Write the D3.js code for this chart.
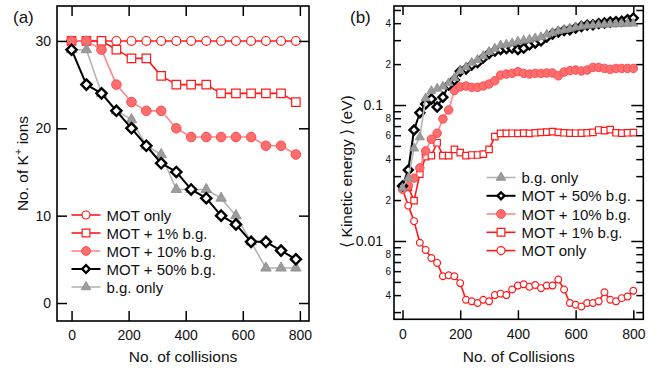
<!DOCTYPE html>
<html>
<head>
<meta charset="utf-8">
<script src="https://cdn.jsdelivr.net/npm/d3@7"></script>
<style>
  body { margin: 0; background: #fff; }
  svg { font-family: "Liberation Sans", Arial, sans-serif; }
</style>
</head>
<body>
<div id="chart"></div>
<script>
// ---- panel (a): number of K+ ions ----
const collA = [0, 52, 105, 157, 210, 262, 314, 367, 419, 472, 524, 576, 629, 681, 734, 786];
const motOnlyA = [30, 30, 30, 30, 30, 30, 30, 30, 30, 30, 30, 30, 30, 30, 30, 30];
const mot1A = [30, 30, 30, 29, 28, 28, 26, 25, 25, 25, 24, 24, 24, 24, 24, 23];
const mot10A = [30, 30, 29, 25, 23, 22, 22, 20, 19, 19, 19, 19, 19, 18, 18, 17];
const mot50A = [29, 25, 24, 22, 20, 18, 16, 15, 13, 12, 10, 9, 7, 7, 6, 5];
const bgA = [29, 29, 24, 22, 21, 18, 17, 13, 13, 13, 12, 10, 7, 4, 4, 4];
const xTicksA = [0, 200, 400, 600, 800];
const yTicksA = [0, 10, 20, 30];

// ---- panel (b): mean kinetic energy ----
const collB = [0, 20, 40, 60, 80, 100, 120, 140, 160, 180, 200, 220, 240, 260, 280, 300, 320, 340, 360, 380,
  400, 420, 440, 460, 480, 500, 520, 540, 560, 580, 600, 620, 640, 660, 680, 700, 720, 740, 760, 780, 800];
const motOnlyB = [0.024, 0.0182, 0.014, 0.0097, 0.0086, 0.0075, 0.0069, 0.0055, 0.0056, 0.0055, 0.0049,
  0.0037, 0.0036, 0.0035, 0.0037, 0.0036, 0.004, 0.0041, 0.004, 0.0044, 0.0047, 0.0048, 0.0046, 0.00475,
  0.0045, 0.0047, 0.0047, 0.0052, 0.0044, 0.0035, 0.0034, 0.0033, 0.0035, 0.0035, 0.0036, 0.0042, 0.0037,
  0.0036, 0.0038, 0.0039, 0.0043];
const mot1B = [0.025, 0.0248, 0.0198, 0.031, 0.0417, 0.0424, 0.0528, 0.0424, 0.0424, 0.0472, 0.0446, 0.0424,
  0.0429, 0.0429, 0.0436, 0.0472, 0.0585, 0.0619, 0.0619, 0.062, 0.0619, 0.0622, 0.0619, 0.0625, 0.063,
  0.0632, 0.0637, 0.063, 0.0625, 0.0622, 0.062, 0.0622, 0.0625, 0.063, 0.0655, 0.0648, 0.066, 0.0625,
  0.0622, 0.0625, 0.0626];
const mot10B = [0.024, 0.0255, 0.029, 0.0345, 0.046, 0.056, 0.062, 0.079, 0.092, 0.128, 0.136, 0.138, 0.135,
  0.135, 0.138, 0.1426, 0.151, 0.166, 0.169, 0.171, 0.176, 0.171, 0.169, 0.171, 0.171, 0.172, 0.172, 0.164,
  0.175, 0.179, 0.181, 0.178, 0.181, 0.189, 0.189, 0.186, 0.183, 0.186, 0.186, 0.186, 0.186];
const mot50B = [0.0254, 0.0333, 0.0655, 0.0877, 0.1017, 0.1107, 0.0967, 0.114, 0.14, 0.153, 0.177, 0.184,
  0.197, 0.205, 0.222, 0.239, 0.249, 0.256, 0.26, 0.262, 0.256, 0.262, 0.277, 0.286, 0.296, 0.316, 0.333,
  0.344, 0.353, 0.358, 0.368, 0.378, 0.387, 0.389, 0.397, 0.401, 0.408, 0.411, 0.413, 0.425, 0.436];
const bgB = [0.0245, 0.029, 0.048, 0.058, 0.112, 0.127, 0.132, 0.137, 0.145, 0.158, 0.178, 0.19, 0.205,
  0.215, 0.23, 0.246, 0.26, 0.275, 0.279, 0.285, 0.293, 0.298, 0.303, 0.31, 0.316, 0.33, 0.34, 0.35, 0.357,
  0.364, 0.372, 0.378, 0.383, 0.386, 0.389, 0.391, 0.393, 0.394, 0.395, 0.397, 0.398];
const xTicksB = [0, 200, 400, 600, 800];
const majorB = [0.01, 0.1];
const minorB = [0.003, 0.004, 0.005, 0.006, 0.007, 0.008, 0.009,
  0.02, 0.03, 0.04, 0.05, 0.06, 0.07, 0.08, 0.09, 0.2, 0.3, 0.4, 0.5];

const W = 664, H = 371;
const svg = d3.select("#chart").append("svg")
  .attr("width", W).attr("height", H);
svg.append("rect").attr("width", W).attr("height", H).attr("fill", "#fff");

// series styles (shared by both panels)
const styles = {
  mot:   { line: "#ff1a1a", lw: 1.6, shape: d3.symbolCircle, fill: "#fff", stroke: "#ff1a1a", sw: 1.2 },
  mot1:  { line: "#ff1a1a", lw: 1.6, shape: d3.symbolSquare, fill: "#fff", stroke: "#ff1a1a", sw: 1.2 },
  mot10: { line: "#ff8a8a", lw: 1.6, shape: d3.symbolCircle, fill: "#ff6e6e", stroke: "#ff4b4b", sw: 1 },
  mot50: { line: "#000", lw: 2, shape: d3.symbolSquare, fill: "#fff", stroke: "#000", sw: 2.4, rot: 45 },
  bg:    { line: "#b4b4b4", lw: 1.6, shape: d3.symbolTriangle, fill: "#9c9c9c", stroke: "#8a8a8a", sw: 0.8 }
};

function drawSeries(g, xs, ys, x, y, st, size) {
  const pts = xs.map((c, i) => ({ c: c, v: ys[i] }));
  g.append("path")
    .datum(pts)
    .attr("fill", "none")
    .attr("stroke", st.line)
    .attr("stroke-width", st.lw)
    .attr("stroke-linejoin", "round")
    .attr("d", d3.line().x(d => x(d.c)).y(d => y(d.v)));
  g.selectAll(null)
    .data(pts)
    .enter()
    .append("path")
    .attr("d", d3.symbol().type(st.shape).size(size))
    .attr("transform", d => `translate(${x(d.c)},${y(d.v)}) rotate(${st.rot || 0})`)
    .attr("fill", st.fill)
    .attr("stroke", st.stroke)
    .attr("stroke-width", st.sw);
}

function legendRow(g, x0, yRow, st, size, label) {
  g.append("line")
    .attr("x1", x0).attr("x2", x0 + 29).attr("y1", yRow).attr("y2", yRow)
    .attr("stroke", st.line).attr("stroke-width", st.lw);
  g.append("path")
    .attr("d", d3.symbol().type(st.shape).size(size))
    .attr("transform", `translate(${x0 + 14.5},${yRow}) rotate(${st.rot || 0})`)
    .attr("fill", st.fill).attr("stroke", st.stroke).attr("stroke-width", st.sw);
  g.append("text")
    .attr("x", x0 + 35).attr("y", yRow + 5.5)
    .attr("font-size", 15).attr("fill", "#111")
    .text(label);
}

function styleAxis(sel, fs) {
  sel.select(".domain").remove();
  sel.selectAll(".tick line").attr("stroke", "#000").attr("stroke-width", 1.5);
  sel.selectAll(".tick text").attr("font-size", fs).attr("fill", "#111")
    .attr("font-family", "Liberation Sans, Arial, sans-serif");
}

// ================= panel (a) =================
const xA = d3.scaleLinear().domain([-51, 832]).range([57, 309]);
const yA = d3.scaleLinear().domain([-2.06, 34]).range([321, 6]);
const gA = svg.append("g");

drawSeries(gA, collA, motOnlyA, xA, yA, styles.mot, 62);
drawSeries(gA, collA, mot1A, xA, yA, styles.mot1, 72);
drawSeries(gA, collA, mot10A, xA, yA, styles.mot10, 72);
drawSeries(gA, collA, bgA, xA, yA, styles.bg, 48);
drawSeries(gA, collA, mot50A, xA, yA, styles.mot50, 52);

gA.append("g").attr("transform", "translate(0,321)")
  .call(d3.axisBottom(xA).tickValues(xTicksA).tickSize(-10).tickPadding(9))
  .call(s => styleAxis(s, 14));
gA.append("g").attr("transform", "translate(0,6)")
  .call(d3.axisTop(xA).tickValues(xTicksA).tickSize(-10).tickFormat(""))
  .call(s => styleAxis(s, 14));
gA.append("g").attr("transform", "translate(57,0)")
  .call(d3.axisLeft(yA).tickValues(yTicksA).tickSize(-10).tickPadding(6))
  .call(s => styleAxis(s, 14));
gA.append("g").attr("transform", "translate(309,0)")
  .call(d3.axisRight(yA).tickValues(yTicksA).tickSize(-10).tickFormat(""))
  .call(s => styleAxis(s, 14));

gA.append("rect")
  .attr("x", 57).attr("y", 6).attr("width", 252).attr("height", 315)
  .attr("fill", "none").attr("stroke", "#000").attr("stroke-width", 1.6);

const legA = gA.append("g");
legendRow(legA, 71.5, 215, styles.mot, 50, "MOT only");
legendRow(legA, 71.5, 233, styles.mot1, 60, "MOT + 1% b.g.");
legendRow(legA, 71.5, 251, styles.mot10, 60, "MOT + 10% b.g.");
legendRow(legA, 71.5, 269, styles.mot50, 30, "MOT + 50% b.g.");
legendRow(legA, 71.5, 287, styles.bg, 40, "b.g. only");

gA.append("text").attr("x", 13).attr("y", 23).attr("font-size", 17).attr("fill", "#111").text("(a)");
gA.append("text").attr("x", 183).attr("y", 362).attr("text-anchor", "middle")
  .attr("font-size", 15.5).attr("fill", "#111").text("No. of collisions");
const yTitleA = gA.append("text")
  .attr("transform", "translate(28,163.5) rotate(-90)")
  .attr("text-anchor", "middle").attr("font-size", 15.5).attr("fill", "#111");
yTitleA.append("tspan").text("No. of K");
yTitleA.append("tspan").attr("dy", -6).attr("font-size", 11).text("+");
yTitleA.append("tspan").attr("dy", 6).text(" ions");

// ================= panel (b) =================
const xB = d3.scaleLinear().domain([-29.5, 834.6]).range([394, 643.3]);
const yB = d3.scaleLog().domain([0.002655, 0.535]).range([319.3, 6]);
const gB = svg.append("g");

drawSeries(gB, collB, motOnlyB, xB, yB, styles.mot, 36);
drawSeries(gB, collB, mot1B, xB, yB, styles.mot1, 42);
drawSeries(gB, collB, mot10B, xB, yB, styles.mot10, 56);
drawSeries(gB, collB, mot50B, xB, yB, styles.mot50, 40);
drawSeries(gB, collB, bgB, xB, yB, styles.bg, 36);

const minorLabel = d => {
  const m = Math.round(d / Math.pow(10, Math.floor(Math.log10(d) + 1e-9)));
  return [2, 4, 6, 8].includes(m) ? String(m) : "";
};

gB.append("g").attr("transform", "translate(0,319.3)")
  .call(d3.axisBottom(xB).tickValues(xTicksB).tickSize(-9).tickPadding(10))
  .call(s => styleAxis(s, 14));
gB.append("g").attr("transform", "translate(0,6)")
  .call(d3.axisTop(xB).tickValues(xTicksB).tickSize(-9).tickFormat(""))
  .call(s => styleAxis(s, 14));
gB.append("g").attr("transform", "translate(394,0)")
  .call(d3.axisLeft(yB).tickValues(majorB).tickSize(-12).tickPadding(11).tickFormat(d => String(d)))
  .call(s => styleAxis(s, 14));
gB.append("g").attr("transform", "translate(394,0)")
  .call(d3.axisLeft(yB).tickValues(minorB).tickSize(-7).tickPadding(3).tickFormat(minorLabel))
  .call(s => styleAxis(s, 10));
gB.append("g").attr("transform", "translate(643.3,0)")
  .call(d3.axisRight(yB).tickValues(majorB).tickSize(-12).tickFormat(""))
  .call(s => styleAxis(s, 14));
gB.append("g").attr("transform", "translate(643.3,0)")
  .call(d3.axisRight(yB).tickValues(minorB).tickSize(-7).tickFormat(""))
  .call(s => styleAxis(s, 10));

gB.append("rect")
  .attr("x", 394).attr("y", 6).attr("width", 249.3).attr("height", 313.3)
  .attr("fill", "none").attr("stroke", "#000").attr("stroke-width", 1.6);

const legB = gB.append("g");
legendRow(legB, 486.5, 177.5, styles.bg, 40, "b.g. only");
legendRow(legB, 486.5, 195.8, styles.mot50, 24, "MOT + 50% b.g.");
legendRow(legB, 486.5, 214, styles.mot10, 60, "MOT + 10% b.g.");
legendRow(legB, 486.5, 232.3, styles.mot1, 60, "MOT + 1% b.g.");
legendRow(legB, 486.5, 250.6, styles.mot, 50, "MOT only");

gB.append("text").attr("x", 350).attr("y", 23).attr("font-size", 17).attr("fill", "#111").text("(b)");
gB.append("text").attr("x", 518.7).attr("y", 362).attr("text-anchor", "middle")
  .attr("font-size", 15.5).attr("fill", "#111").text("No. of Collisions");
gB.append("text")
  .attr("transform", "translate(352,171.5) rotate(-90)")
  .attr("text-anchor", "middle").attr("font-size", 15.5).attr("fill", "#111")
  .text("\u27E8 Kinetic energy \u27E9 (eV)");
</script>
</body>
</html>
